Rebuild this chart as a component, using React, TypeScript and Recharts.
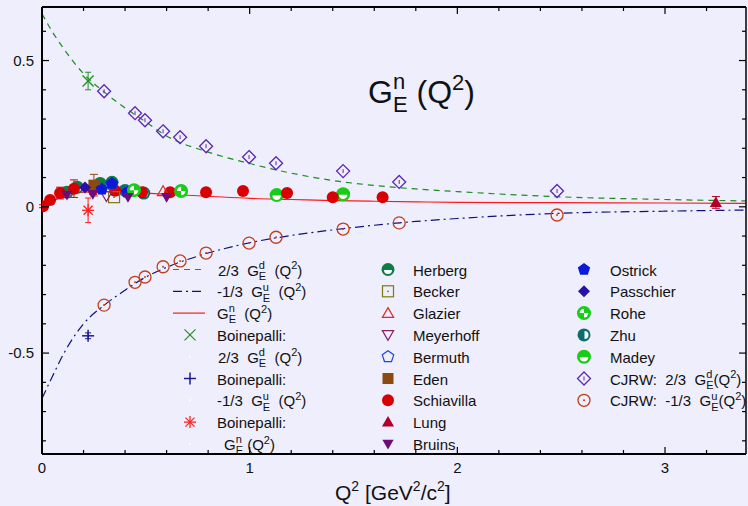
import React from 'react';
import { ComposedChart, Line, Scatter, XAxis, YAxis, ErrorBar } from 'recharts';

const FONT = '"Liberation Sans", Arial, Helvetica, sans-serif';
const BG = '#eeeefd';

// model curves
const curveQ2 = [0, 0.05, 0.1, 0.15, 0.2, 0.3, 0.4, 0.5, 0.6, 0.8, 1.0, 1.2, 1.4, 1.6, 1.8, 2.0, 2.5, 3.0, 3.39];
const gedCurve = [0.66, 0.598, 0.545, 0.497, 0.455, 0.392, 0.338, 0.29, 0.242, 0.187, 0.148, 0.115, 0.09, 0.073, 0.061, 0.052, 0.034, 0.025, 0.02];
const geuCurve = [-0.655, -0.58, -0.508, -0.448, -0.4, -0.336, -0.285, -0.24, -0.207, -0.158, -0.123, -0.098, -0.079, -0.063, -0.05, -0.04, -0.022, -0.015, -0.011];
const genCurve = [0, 0.02, 0.035, 0.045, 0.05, 0.052, 0.05, 0.047, 0.043, 0.036, 0.029, 0.025, 0.021, 0.019, 0.017, 0.015, 0.014, 0.013, 0.012];

// CJRW flavour-separated points
const cjrwQ2 = [0.299, 0.448, 0.496, 0.583, 0.665, 0.79, 0.997, 1.127, 1.45, 1.72, 2.48];
const cjrwD = [0.395, 0.32, 0.296, 0.258, 0.238, 0.207, 0.17, 0.149, 0.122, 0.085, 0.054];
const cjrwU = [-0.336, -0.258, -0.24, -0.205, -0.185, -0.158, -0.124, -0.104, -0.076, -0.055, -0.028];

// Boinepalli lattice point
const boinQ2 = [0.222];
const boinD = [0.43];
const boinDErr = [0.03];
const boinU = [-0.441];
const boinUErr = [0.01];
const boinN = [-0.012];
const boinNErr = [0.042];

// G_E^n experiments
const schiavillaQ2 = [0.005, 0.039, 0.087, 0.154, 0.246, 0.352, 0.482, 0.617, 0.79, 0.968, 1.18, 1.4, 1.64];
const schiavillaG = [0.002, 0.023, 0.047, 0.062, 0.062, 0.055, 0.05, 0.05, 0.05, 0.054, 0.047, 0.033, 0.033];
const schiavillaErr = [0.005, 0.008, 0.02, 0.03, 0.02, 0.015, 0.01, 0.01, 0.01, 0.01, 0.01, 0.01, 0.01];
const herbergQ2 = [0.12, 0.17, 0.28, 0.337];
const herbergG = [0.05, 0.067, 0.08, 0.084];
const zhuQ2 = [0.4, 0.49];
const zhuG = [0.056, 0.047];
const roheQ2 = [0.443, 0.67];
const roheG = [0.057, 0.054];
const madeyQ2 = [1.13, 1.45];
const madeyG = [0.04, 0.043];
const ostrickQ2 = [0.288, 0.337, 0.41];
const ostrickG = [0.06, 0.08, 0.05];
const bermuthQ2 = [0.337];
const bermuthG = [0.077];
const passchierQ2 = [0.207];
const passchierG = [0.066];
const edenQ2 = [0.25];
const edenG = [0.074];
const edenErr = [0.037];
const beckerQ2 = [0.347];
const beckerG = [0.033];
const meyerhoffQ2 = [0.31];
const meyerhoffG = [0.037];
const glazierQ2 = [0.583];
const glazierG = [0.053];
const bruinsQ2 = [0.12, 0.245, 0.414, 0.6];
const bruinsG = [0.04, 0.043, 0.033, 0.033];
const lungQ2 = [3.245];
const lungG = [0.015];
const lungErr = [0.02];

const xTicks = [0, 0.2, 0.4, 0.6, 0.8, 1, 1.2, 1.4, 1.6, 1.8, 2, 2.2, 2.4, 2.6, 2.8, 3, 3.2];
const xMajor = [0, 1, 2, 3];
const yTicks = [-0.8, -0.7, -0.6, -0.5, -0.4, -0.3, -0.2, -0.1, 0, 0.1, 0.2, 0.3, 0.4, 0.5, 0.6];
const yMajor = [-0.5, 0, 0.5];

const pts = (xs: number[], ys: number[], errs?: number[]) =>
  xs.map((x, i) => ({ x, y: ys[i], err: errs ? errs[i] : 0 }));

const isMajor = (v: number, list: number[]) => list.some((m) => Math.abs(m - v) < 1e-9);

function poly(cx: number, cy: number, r: number, n: number, rot: number) {
  const out: string[] = [];
  for (let i = 0; i < n; i++) {
    const a = ((rot + (360 / n) * i) * Math.PI) / 180;
    out.push(`${cx + r * Math.cos(a)},${cy + r * Math.sin(a)}`);
  }
  return out.join(' ');
}

function Marker({ kind, cx, cy }: { kind: string; cx: number; cy: number }) {
  switch (kind) {
    case 'schiavilla':
      return <circle cx={cx} cy={cy} r={6} fill="#d80000" />;
    case 'herberg':
      return (
        <g>
          <circle cx={cx} cy={cy} r={6.5} fill="#0b7d45" />
          <path d={`M${cx - 4},${cy + 0.5} A4,4 0 0 0 ${cx + 4},${cy + 0.5} Z`} fill="#fff" />
        </g>
      );
    case 'madey':
      return (
        <g>
          <circle cx={cx} cy={cy} r={7} fill="#18cc18" />
          <path d={`M${cx - 4.3},${cy + 0.5} A4.3,4.3 0 0 0 ${cx + 4.3},${cy + 0.5} Z`} fill="#fff" />
        </g>
      );
    case 'zhu':
      return (
        <g>
          <circle cx={cx} cy={cy} r={6.5} fill="#0a6e6e" />
          <path d={`M${cx + 0.5},${cy - 4} A4,4 0 0 1 ${cx + 0.5},${cy + 4} Z`} fill="#fff" />
        </g>
      );
    case 'rohe':
      return (
        <g>
          <circle cx={cx} cy={cy} r={7} fill="#18cc18" />
          <path d={`M${cx},${cy} L${cx - 4.3},${cy} A4.3,4.3 0 0 1 ${cx},${cy - 4.3} Z`} fill="#fff" />
          <path d={`M${cx},${cy} L${cx + 4.3},${cy} A4.3,4.3 0 0 1 ${cx},${cy + 4.3} Z`} fill="#fff" />
        </g>
      );
    case 'ostrick':
      return <polygon points={poly(cx, cy, 6.5, 5, -90)} fill="#0a1ad8" />;
    case 'bermuth':
      return <polygon points={poly(cx, cy, 6, 5, -90)} fill="none" stroke="#2040e8" strokeWidth={1.2} />;
    case 'passchier':
      return <polygon points={poly(cx, cy, 6, 4, -90)} fill="#2a10a8" />;
    case 'eden':
      return <rect x={cx - 5.5} y={cy - 5.5} width={11} height={11} fill="#8b4a10" />;
    case 'becker':
      return (
        <g>
          <rect x={cx - 5.5} y={cy - 5.5} width={11} height={11} fill="none" stroke="#7a7a10" strokeWidth={1.2} />
          <circle cx={cx} cy={cy} r={0.9} fill="#7a7a10" />
        </g>
      );
    case 'glazier':
      return <polygon points={poly(cx, cy + 1, 6.5, 3, -90)} fill="none" stroke="#e02828" strokeWidth={1.2} />;
    case 'meyerhoff':
      return <polygon points={poly(cx, cy - 1, 6.5, 3, 90)} fill="none" stroke="#882066" strokeWidth={1.2} />;
    case 'bruins':
      return <polygon points={poly(cx, cy - 1, 6.5, 3, 90)} fill="#6e0a7a" />;
    case 'lung':
      return <polygon points={poly(cx, cy + 1, 7, 3, -90)} fill="#b0002a" />;
    case 'cjrwD':
      return (
        <g>
          <polygon points={poly(cx, cy, 6.5, 4, -90)} fill="none" stroke="#5a28b0" strokeWidth={1.3} />
          <line x1={cx} x2={cx} y1={cy - 2} y2={cy + 2} stroke="#5a28b0" strokeWidth={1} />
        </g>
      );
    case 'cjrwU':
      return (
        <g>
          <circle cx={cx} cy={cy} r={6} fill="none" stroke="#c0401c" strokeWidth={1.3} />
          <circle cx={cx} cy={cy} r={1} fill="#c0401c" />
        </g>
      );
    case 'bX':
      return (
        <g stroke="#229022" strokeWidth={1.3}>
          <line x1={cx - 5.5} y1={cy - 5.5} x2={cx + 5.5} y2={cy + 5.5} />
          <line x1={cx - 5.5} y1={cy + 5.5} x2={cx + 5.5} y2={cy - 5.5} />
        </g>
      );
    case 'bPlus':
      return (
        <g stroke="#1a1a90" strokeWidth={1.5}>
          <line x1={cx - 6} y1={cy} x2={cx + 6} y2={cy} />
          <line x1={cx} y1={cy - 6} x2={cx} y2={cy + 6} />
        </g>
      );
    case 'bStar':
      return (
        <g stroke="#ff2020" strokeWidth={1.3}>
          <line x1={cx - 6} y1={cy} x2={cx + 6} y2={cy} />
          <line x1={cx} y1={cy - 6} x2={cx} y2={cy + 6} />
          <line x1={cx - 4.5} y1={cy - 4.5} x2={cx + 4.5} y2={cy + 4.5} />
          <line x1={cx - 4.5} y1={cy + 4.5} x2={cx + 4.5} y2={cy - 4.5} />
        </g>
      );
    default:
      return null;
  }
}

const shape = (kind: string) => (p: any) => <Marker kind={kind} cx={p.cx} cy={p.cy} />;

function BottomTick(props: any) {
  const { x, y, payload } = props;
  const major = isMajor(payload.value, xMajor);
  return (
    <g>
      <line x1={x} x2={x} y1={y} y2={y - (major ? 7 : 4)} stroke="#000" strokeWidth={1.2} />
      {major && (
        <text x={x} y={y + 19} textAnchor="middle" fontSize={15} fontFamily={FONT} fill="#111">
          {payload.value}
        </text>
      )}
    </g>
  );
}

function TopTick(props: any) {
  const { x, y, payload } = props;
  const major = isMajor(payload.value, xMajor);
  return <line x1={x} x2={x} y1={y} y2={y + (major ? 7 : 4)} stroke="#000" strokeWidth={1.2} />;
}

function LeftTick(props: any) {
  const { x, y, payload } = props;
  const major = isMajor(payload.value, yMajor);
  return (
    <g>
      <line x1={x} x2={x + (major ? 7 : 4)} y1={y} y2={y} stroke="#000" strokeWidth={1.2} />
      {major && (
        <text x={x - 8} y={y + 5} textAnchor="end" fontSize={15} fontFamily={FONT} fill="#111">
          {String(payload.value)}
        </text>
      )}
    </g>
  );
}

function RightTick(props: any) {
  const { x, y, payload } = props;
  const major = isMajor(payload.value, yMajor);
  return <line x1={x} x2={x - (major ? 7 : 4)} y1={y} y2={y} stroke="#000" strokeWidth={1.2} />;
}

// G^q_E(Q^2) style label
function GE({ x, y, pre, q, gap, size = 15 }: { x: number; y: number; pre: string; q: string; gap: string; size?: number }) {
  const s2 = Math.round(size * 0.7);
  return (
    <text x={x} y={y} fontSize={size} fontFamily={FONT} fill="#111" style={{ whiteSpace: 'pre' }}>
      {pre}G
      <tspan fontSize={s2} dy={-0.45 * size}>{q}</tspan>
      <tspan fontSize={s2} dx={-0.556 * s2} dy={0.74 * size}>E</tspan>
      <tspan fontSize={size} dy={-0.29 * size}>{gap}(Q</tspan>
      <tspan fontSize={s2} dy={-0.42 * size}>2</tspan>
      <tspan fontSize={size} dy={0.42 * size}>)</tspan>
    </text>
  );
}

const rowY = (i: number) => 269.5 + 21.8 * i;

const col2Names = ['Herberg', 'Becker', 'Glazier', 'Meyerhoff', 'Bermuth', 'Eden', 'Schiavilla', 'Lung', 'Bruins'];
const col2Kinds = ['herberg', 'becker', 'glazier', 'meyerhoff', 'bermuth', 'eden', 'schiavilla', 'lung', 'bruins'];
const col3Names = ['Ostrick', 'Passchier', 'Rohe', 'Zhu', 'Madey'];
const col3Kinds = ['ostrick', 'passchier', 'rohe', 'zhu', 'madey'];

function Overlay() {
  const t = (x: number, i: number, s: string) => (
    <text x={x} y={rowY(i) + 6} fontSize={15} fontFamily={FONT} fill="#111" style={{ whiteSpace: 'pre' }}>
      {s}
    </text>
  );
  return (
    <svg width={748} height={506} style={{ position: 'absolute', left: 0, top: 0, pointerEvents: 'none' }}>
      {/* title */}
      <GE x={368} y={103} pre="" q="n" gap=" " size={32} />
      {/* x axis label */}
      <text x={335} y={500} fontSize={21} fontFamily={FONT} fill="#111">
        Q<tspan fontSize={14} dy={-9}>2</tspan>
        <tspan fontSize={21} dy={9}> [GeV</tspan>
        <tspan fontSize={14} dy={-9}>2</tspan>
        <tspan fontSize={21} dy={9}>/c</tspan>
        <tspan fontSize={14} dy={-9}>2</tspan>
        <tspan fontSize={21} dy={9}>]</tspan>
      </text>

      {/* legend column 1 */}
      <line x1={173} x2={205} y1={rowY(0)} y2={rowY(0)} stroke="#1e8c1e" strokeWidth={1.2} strokeDasharray="6 5" />
      <GE x={218} y={rowY(0) + 6} pre="2/3  " q="d" gap="  " />
      <line x1={173} x2={205} y1={rowY(1)} y2={rowY(1)} stroke="#10107a" strokeWidth={1.2} strokeDasharray="9 4 2 4" />
      <GE x={217} y={rowY(1) + 6} pre="-1/3  " q="u" gap="  " />
      <line x1={173} x2={205} y1={rowY(2)} y2={rowY(2)} stroke="#ff1a1a" strokeWidth={1.2} />
      <GE x={217} y={rowY(2) + 6} pre="" q="n" gap="  " />
      <Marker kind="bX" cx={190} cy={rowY(3)} />
      {t(217, 3, 'Boinepalli:')}
      <circle cx={190} cy={rowY(4)} r={1} fill="#fff" />
      <GE x={218} y={rowY(4) + 6} pre="2/3  " q="d" gap="  " />
      <Marker kind="bPlus" cx={190} cy={rowY(5)} />
      {t(217, 5, 'Boinepalli:')}
      <circle cx={190} cy={rowY(6)} r={1} fill="#fff" />
      <GE x={217} y={rowY(6) + 6} pre="-1/3  " q="u" gap="  " />
      <Marker kind="bStar" cx={190} cy={rowY(7)} />
      {t(217, 7, 'Boinepalli:')}
      <circle cx={190} cy={rowY(8)} r={1} fill="#fff" />
      <GE x={224} y={rowY(8) + 6} pre="" q="n" gap=" " />

      {/* legend column 2 */}
      {col2Names.map((n, i) => (
        <g key={n}>
          <Marker kind={col2Kinds[i]} cx={388} cy={rowY(i)} />
          {t(413, i, n)}
        </g>
      ))}

      {/* legend column 3 */}
      {col3Names.map((n, i) => (
        <g key={n}>
          <Marker kind={col3Kinds[i]} cx={584} cy={rowY(i)} />
          {t(610, i, n)}
        </g>
      ))}
      <Marker kind="cjrwD" cx={584} cy={rowY(5)} />
      <GE x={610} y={rowY(5) + 6} pre="CJRW:  2/3  " q="d" gap="" />
      <Marker kind="cjrwU" cx={584} cy={rowY(6)} />
      <GE x={610} y={rowY(6) + 6} pre="CJRW:  -1/3  " q="u" gap="" />
    </svg>
  );
}

export default function App() {
  const ged = pts(curveQ2, gedCurve);
  const geu = pts(curveQ2, geuCurve);
  const gen = pts(curveQ2, genCurve);
  return (
    <div style={{ position: 'absolute', left: 0, top: 0, width: 748, height: 506, background: BG, overflow: 'hidden' }}>
      <ComposedChart width={748} height={506} margin={{ top: 0, right: 0, bottom: 0, left: 0 }}>
        <XAxis
          xAxisId="b"
          dataKey="x"
          type="number"
          domain={[0, 3.39]}
          allowDataOverflow
          ticks={xTicks}
          interval={0}
          height={52}
          tickSize={0}
          tickMargin={0}
          tickLine={false}
          axisLine={{ stroke: '#000', strokeWidth: 2 }}
          tick={BottomTick}
        />
        <XAxis
          xAxisId="t"
          orientation="top"
          dataKey="x"
          type="number"
          domain={[0, 3.39]}
          allowDataOverflow
          ticks={xTicks}
          interval={0}
          height={7}
          tickSize={0}
          tickMargin={0}
          tickLine={false}
          axisLine={{ stroke: '#000', strokeWidth: 2 }}
          tick={TopTick}
        />
        <YAxis
          yAxisId="l"
          dataKey="y"
          type="number"
          domain={[-0.845, 0.683]}
          allowDataOverflow
          ticks={yTicks}
          interval={0}
          width={42}
          tickSize={0}
          tickMargin={0}
          tickLine={false}
          axisLine={{ stroke: '#000', strokeWidth: 2 }}
          tick={LeftTick}
        />
        <YAxis
          yAxisId="r"
          orientation="right"
          dataKey="y"
          type="number"
          domain={[-0.845, 0.683]}
          allowDataOverflow
          ticks={yTicks}
          interval={0}
          width={2}
          tickSize={0}
          tickMargin={0}
          tickLine={false}
          axisLine={{ stroke: '#000', strokeWidth: 1.5 }}
          tick={RightTick}
        />

        <Line xAxisId="b" yAxisId="l" data={ged} dataKey="y" type="monotone" stroke="#1e8c1e" strokeWidth={1.2} strokeDasharray="6 5" dot={false} activeDot={false} isAnimationActive={false} />
        <Line xAxisId="b" yAxisId="l" data={geu} dataKey="y" type="monotone" stroke="#10107a" strokeWidth={1.2} strokeDasharray="9 4 2 4" dot={false} activeDot={false} isAnimationActive={false} />
        <Line xAxisId="b" yAxisId="l" data={gen} dataKey="y" type="monotone" stroke="#ff1a1a" strokeWidth={1.2} dot={false} activeDot={false} isAnimationActive={false} />

        <Scatter xAxisId="b" yAxisId="l" data={pts(herbergQ2, herbergG)} dataKey="y" shape={shape('herberg')} isAnimationActive={false} />
        <Scatter xAxisId="b" yAxisId="l" data={pts(zhuQ2, zhuG)} dataKey="y" shape={shape('zhu')} isAnimationActive={false} />
        <Scatter xAxisId="b" yAxisId="l" data={pts(madeyQ2, madeyG)} dataKey="y" shape={shape('madey')} isAnimationActive={false} />
        <Scatter xAxisId="b" yAxisId="l" data={pts(schiavillaQ2, schiavillaG, schiavillaErr)} dataKey="y" shape={shape('schiavilla')} isAnimationActive={false}>
          <ErrorBar dataKey="err" direction="y" width={4} stroke="#d80000" strokeWidth={1} />
        </Scatter>
        <Scatter xAxisId="b" yAxisId="l" data={pts(edenQ2, edenG, edenErr)} dataKey="y" shape={shape('eden')} isAnimationActive={false}>
          <ErrorBar dataKey="err" direction="y" width={4} stroke="#8b4a10" strokeWidth={1} />
        </Scatter>
        <Scatter xAxisId="b" yAxisId="l" data={pts(beckerQ2, beckerG)} dataKey="y" shape={shape('becker')} isAnimationActive={false} />
        <Scatter xAxisId="b" yAxisId="l" data={pts(glazierQ2, glazierG)} dataKey="y" shape={shape('glazier')} isAnimationActive={false} />
        <Scatter xAxisId="b" yAxisId="l" data={pts(meyerhoffQ2, meyerhoffG)} dataKey="y" shape={shape('meyerhoff')} isAnimationActive={false} />
        <Scatter xAxisId="b" yAxisId="l" data={pts(bermuthQ2, bermuthG)} dataKey="y" shape={shape('bermuth')} isAnimationActive={false} />
        <Scatter xAxisId="b" yAxisId="l" data={pts(ostrickQ2, ostrickG)} dataKey="y" shape={shape('ostrick')} isAnimationActive={false} />
        <Scatter xAxisId="b" yAxisId="l" data={pts(passchierQ2, passchierG)} dataKey="y" shape={shape('passchier')} isAnimationActive={false} />
        <Scatter xAxisId="b" yAxisId="l" data={pts(roheQ2, roheG)} dataKey="y" shape={shape('rohe')} isAnimationActive={false} />
        <Scatter xAxisId="b" yAxisId="l" data={pts(bruinsQ2, bruinsG)} dataKey="y" shape={shape('bruins')} isAnimationActive={false} />
        <Scatter xAxisId="b" yAxisId="l" data={pts(lungQ2, lungG, lungErr)} dataKey="y" shape={shape('lung')} isAnimationActive={false}>
          <ErrorBar dataKey="err" direction="y" width={4} stroke="#b0002a" strokeWidth={1} />
        </Scatter>

        <Scatter xAxisId="b" yAxisId="l" data={pts(cjrwQ2, cjrwD)} dataKey="y" shape={shape('cjrwD')} isAnimationActive={false} />
        <Scatter xAxisId="b" yAxisId="l" data={pts(cjrwQ2, cjrwU)} dataKey="y" shape={shape('cjrwU')} isAnimationActive={false} />

        <Scatter xAxisId="b" yAxisId="l" data={pts(boinQ2, boinD, boinDErr)} dataKey="y" shape={shape('bX')} isAnimationActive={false}>
          <ErrorBar dataKey="err" direction="y" width={3} stroke="#229022" strokeWidth={1} />
        </Scatter>
        <Scatter xAxisId="b" yAxisId="l" data={pts(boinQ2, boinU, boinUErr)} dataKey="y" shape={shape('bPlus')} isAnimationActive={false}>
          <ErrorBar dataKey="err" direction="y" width={3} stroke="#1a1a90" strokeWidth={1} />
        </Scatter>
        <Scatter xAxisId="b" yAxisId="l" data={pts(boinQ2, boinN, boinNErr)} dataKey="y" shape={shape('bStar')} isAnimationActive={false}>
          <ErrorBar dataKey="err" direction="y" width={3} stroke="#ff2020" strokeWidth={1} />
        </Scatter>
      </ComposedChart>
      <Overlay />
    </div>
  );
}
